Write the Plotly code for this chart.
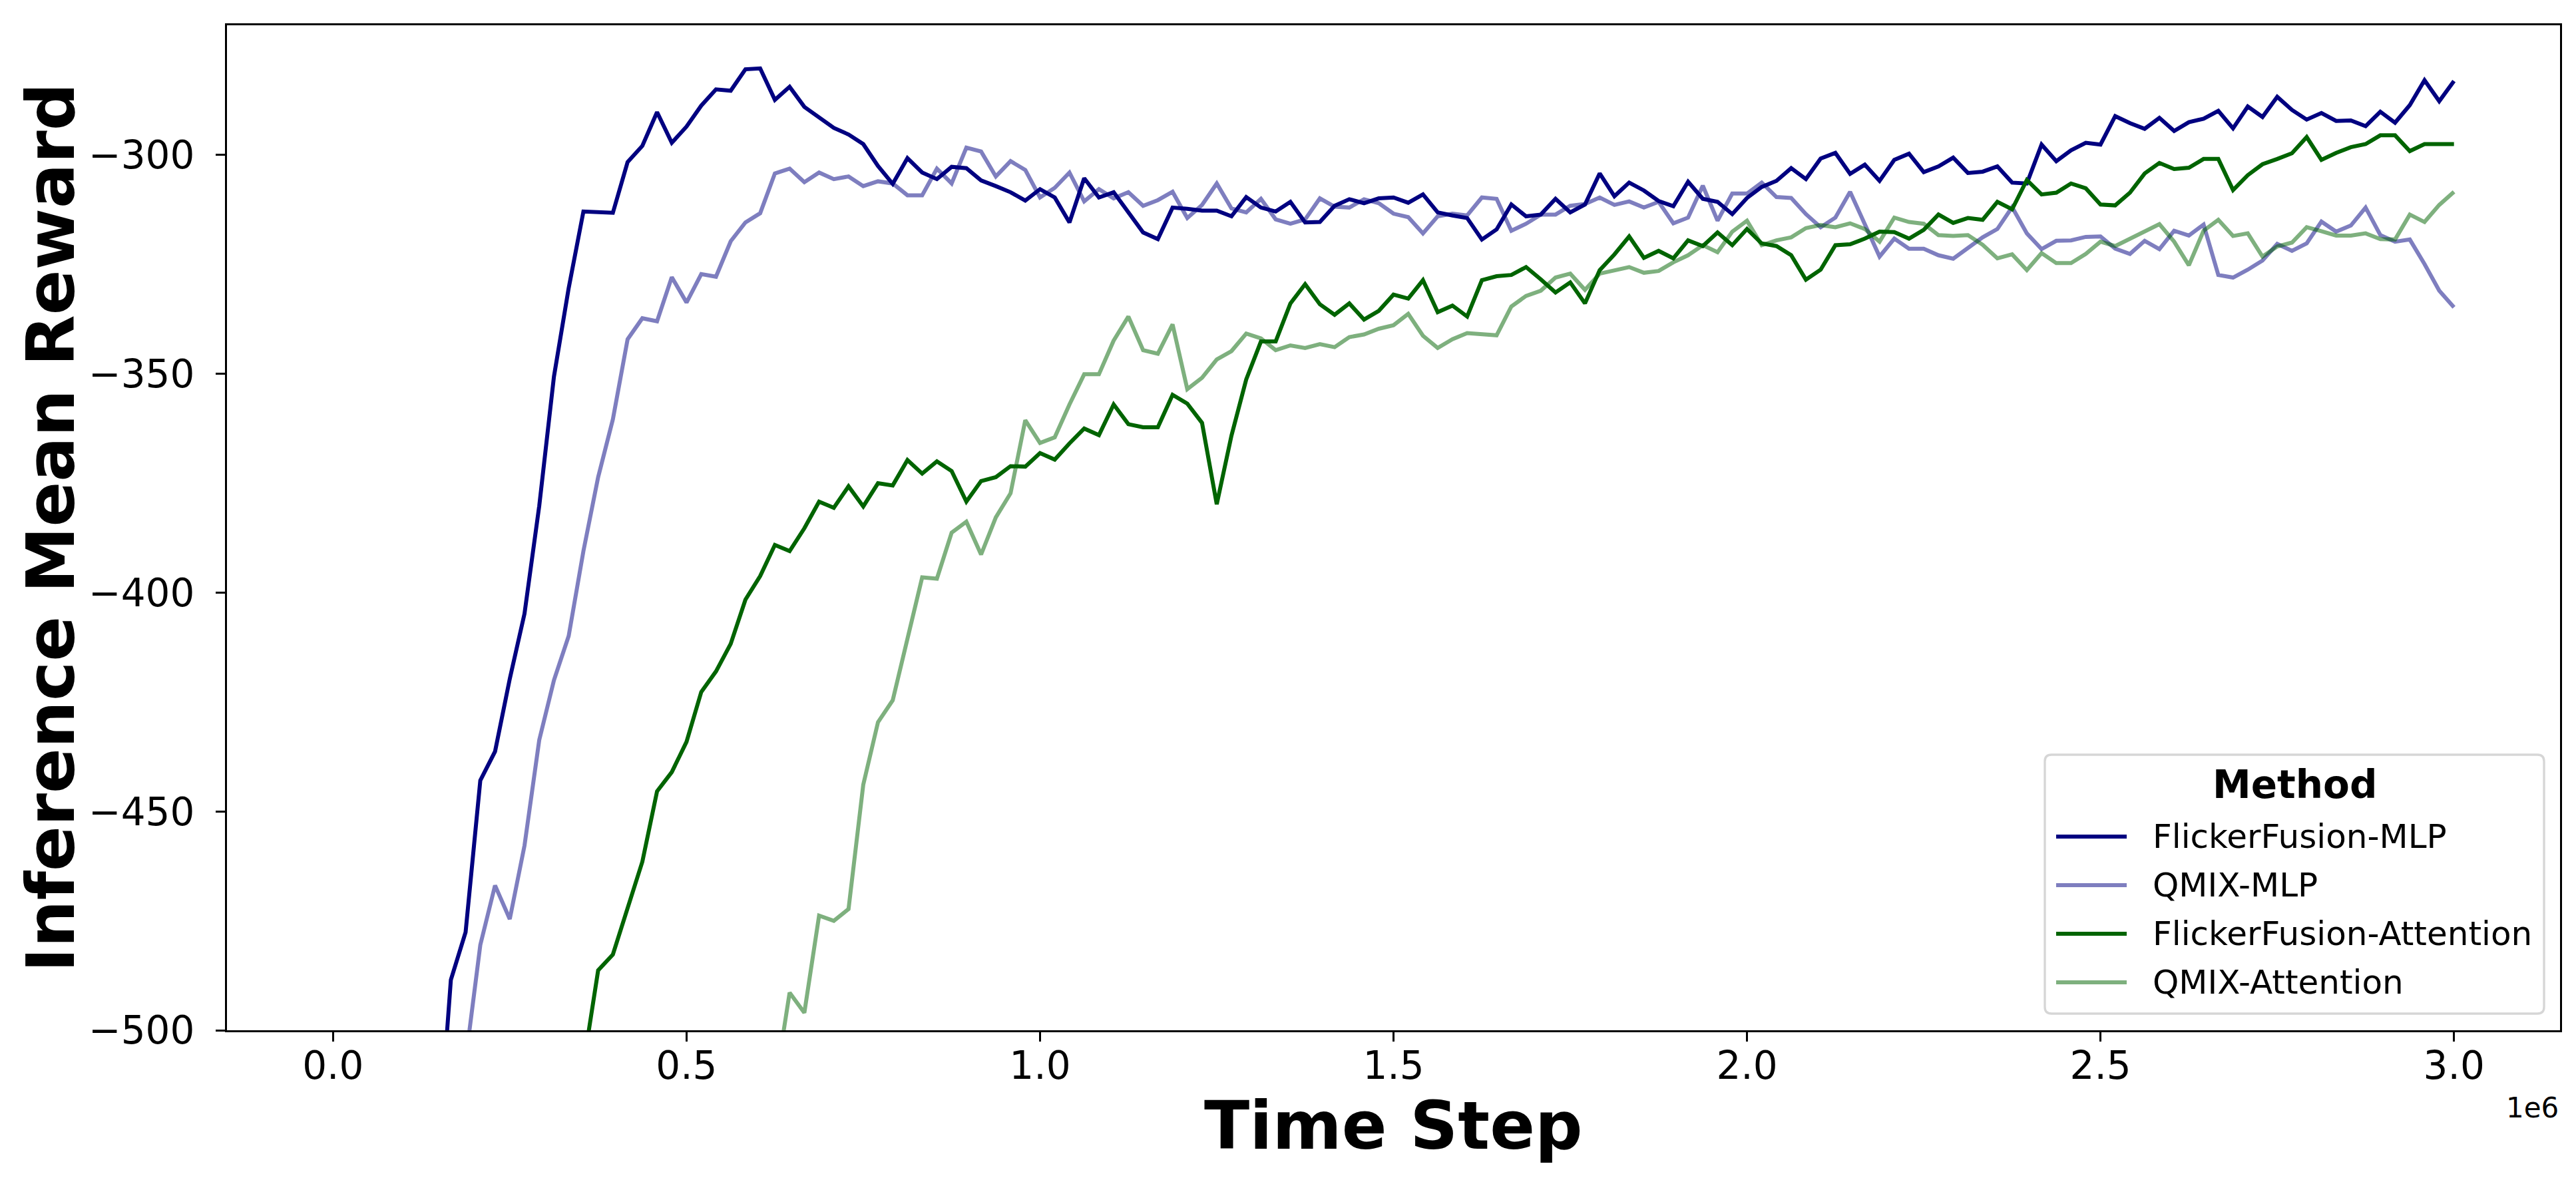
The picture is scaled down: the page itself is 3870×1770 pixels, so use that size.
import plotly.graph_objects as go

# Pasos de evaluacion: 145 evaluaciones entre 0 y 3e6
eval_step = 3_000_000 / 144
time_steps = [eval_step * i for i in range(145)]

methods = ['FlickerFusion-MLP', 'QMIX-MLP', 'FlickerFusion-Attention', 'QMIX-Attention']

# Primer indice de evaluacion visible (justo por debajo de -500)
start_idx = {
    'FlickerFusion-MLP': 7,
    'QMIX-MLP': 9,
    'FlickerFusion-Attention': 17,
    'QMIX-Attention': 30,
}

ff_mlp = [
    -534.0, -488.5, -477.6, -442.9, -436.3, -419.7, -404.8, -380.2, -350.6, -330.4,
    -312.9, -313.0, -313.2, -301.6, -297.9, -290.2, -297.2, -293.5, -288.7, -285.0,
    -285.3,
    -280.4, -280.2, -287.4, -284.4, -289.0, -291.4, -293.8, -295.3, -297.5, -302.5,
    -306.6, -300.7, -304.0, -305.5, -302.7, -303.0, -305.8, -307.1, -308.5, -310.4,
    -307.8, -309.7, -315.4, -305.3, -309.7, -308.5, -313.2,
    -317.7, -319.2, -312.0, -312.3, -312.7, -312.7, -314.0, -309.6, -312.0, -312.9,
    -310.7, -315.4, -315.3, -311.6, -310.1, -311.0, -309.9, -309.7, -310.9, -309.0,
    -313.1, -313.8, -314.4, -319.3, -317.0, -311.3, -314.0, -313.6, -310.0, -313.1,
    -311.3, -304.2, -309.4, -306.3, -308.1, -310.5,
    -311.7, -306.1, -310.0, -310.7, -313.5, -309.8, -307.3, -305.9, -303.0, -305.5,
    -300.8, -299.5, -304.3, -302.2, -305.9, -301.1, -299.7, -303.9, -302.6, -300.6,
    -304.1, -303.8, -302.6, -306.3, -306.5, -297.6, -301.4, -298.9, -297.2, -297.6,
    -291.1, -292.7, -294.0, -291.5,
    -294.5, -292.5, -291.7, -289.9, -293.9, -288.9, -291.3, -286.7, -289.7, -291.9,
    -290.4, -292.2, -292.1, -293.4, -290.1, -292.6, -288.6, -282.9, -287.7, -283.1,
]

qmix_mlp = [
    -507.0, -480.5, -466.9, -474.6, -457.8, -433.7, -420.0, -409.9, -390.5, -373.6,
    -360.4, -342.1, -337.3, -338.0, -327.9, -333.7, -327.2, -327.8, -319.7,
    -315.4, -313.3, -304.2, -303.1, -306.2, -304.0, -305.5, -304.9, -307.1, -306.0,
    -306.5, -309.2, -309.2, -303.1, -306.5, -298.3, -299.2, -304.9, -301.4, -303.4,
    -309.7, -307.5, -304.0, -310.6, -307.8, -309.9, -308.5,
    -311.6, -310.3, -308.4, -314.4, -311.4, -306.5, -312.2, -313.1, -310.0, -314.7,
    -315.7, -314.7, -309.9, -311.8, -312.0, -310.1, -311.0, -313.4, -314.2, -317.9,
    -314.0, -313.4, -313.8, -309.7, -310.0, -317.3, -315.7, -313.6, -313.6, -311.6,
    -311.2, -309.7, -311.4, -310.6, -312.0, -310.7,
    -315.6, -314.3, -307.0, -315.0, -308.8, -308.8, -306.3, -309.6, -309.8, -313.5,
    -316.5, -314.3, -308.4, -315.8, -323.2, -319.1, -321.4, -321.4, -322.9, -323.7,
    -321.2, -318.8, -316.9, -311.9, -317.9, -321.5, -319.6, -319.5, -318.7, -318.6,
    -321.4, -322.6, -319.6, -321.5,
    -317.3, -318.4, -315.9, -327.4, -328.0, -326.2, -324.1, -320.3, -321.9, -320.2,
    -315.2, -317.5, -316.1, -312.0, -318.3, -319.8, -319.3, -324.9, -331.0, -334.8,
]

ff_attention = [
    -508.0, -486.3, -482.7, -472.4, -461.5, -445.4, -441.0, -434.1, -422.7, -418.0,
    -411.7,
    -401.6, -396.2, -389.1, -390.5, -385.3, -379.2, -380.6, -375.7, -380.3, -375.0,
    -375.5, -369.7, -372.8, -370.0, -372.2, -379.2, -374.5, -373.6, -371.1, -371.2,
    -368.1, -369.6, -365.9, -362.5, -364.0, -357.0, -361.5,
    -362.2, -362.2, -354.8, -356.8, -361.2, -379.8, -364.1, -351.3, -342.6, -342.6,
    -333.9, -329.5, -334.1, -336.5, -333.9, -337.6, -335.6, -331.9, -332.8, -328.6,
    -335.9, -334.4, -336.9, -328.6, -327.7, -327.4, -325.6, -328.4, -331.4, -329.1,
    -333.9, -326.3, -322.7, -318.6, -323.5, -321.9,
    -323.6, -319.5, -320.8, -317.7, -320.6, -316.9, -320.2, -320.8, -322.9, -328.5,
    -326.2, -320.6, -320.4, -319.1, -317.5, -317.6, -319.1, -317.1, -313.6, -315.5,
    -314.4, -314.8, -310.7, -312.4, -305.7, -309.0, -308.6, -306.5, -307.6, -311.3,
    -311.5, -308.6, -304.2, -301.8,
    -303.2, -302.9, -300.9, -300.9, -308.0, -304.6, -302.1, -300.9, -299.6, -295.9,
    -301.1, -299.5, -298.2, -297.5, -295.5, -295.5, -299.1, -297.5, -297.6, -297.5,
]

qmix_attention = [
    -513.0, -491.4, -496.0, -473.8, -475.0, -472.3, -443.9, -429.6, -424.6, -410.4,
    -396.5, -396.8, -386.3, -383.8, -391.3, -382.8, -377.3, -360.6, -365.8, -364.5,
    -357.0, -350.1, -350.1, -342.4, -336.9,
    -344.6, -345.4, -338.7, -353.5, -350.9, -346.7, -344.8, -340.8, -341.9, -344.6,
    -343.5, -344.1, -343.2, -343.9, -341.6, -341.0, -339.7, -338.9, -336.3, -341.3,
    -344.1, -342.1, -340.7, -340.9, -341.2, -334.6, -332.2, -331.0, -328.0, -327.1,
    -330.8, -327.1, -326.4, -325.6, -326.9, -326.5,
    -324.5, -322.9, -320.6, -322.2, -317.5, -315.0, -320.6, -319.5, -318.8, -316.7,
    -316.0, -316.5, -315.6, -316.9, -319.8, -314.3, -315.3, -315.7, -318.3, -318.5,
    -318.3, -320.5, -323.6, -322.7, -326.3, -322.4, -324.7, -324.7, -322.6, -319.8,
    -320.8, -319.2, -317.5, -315.8,
    -319.8, -325.2, -317.3, -314.8, -318.5, -317.9, -323.2, -320.9, -320.0, -316.5,
    -317.4, -318.4, -318.4, -317.9, -319.2, -319.3, -313.6, -315.3, -311.4, -308.4,
]

rewards = {
    'FlickerFusion-MLP': ff_mlp,
    'QMIX-MLP': qmix_mlp,
    'FlickerFusion-Attention': ff_attention,
    'QMIX-Attention': qmix_attention,
}

colores = {
    'FlickerFusion-MLP': 'navy',
    'QMIX-MLP': 'navy',
    'FlickerFusion-Attention': 'darkgreen',
    'QMIX-Attention': 'darkgreen',
}
opacidad = {
    'FlickerFusion-MLP': 1.0,
    'QMIX-MLP': 0.5,
    'FlickerFusion-Attention': 1.0,
    'QMIX-Attention': 0.5,
}

x_ticks = [0, 500_000, 1_000_000, 1_500_000, 2_000_000, 2_500_000, 3_000_000]
x_tick_labels = ['0.0', '0.5', '1.0', '1.5', '2.0', '2.5', '3.0']
y_ticks = [-500, -450, -400, -350, -300]
y_tick_labels = ['\u2212500', '\u2212450', '\u2212400', '\u2212350', '\u2212300']

fuente = 'DejaVu Sans'
ancho, alto = 3870, 1770
m_izq, m_der, m_sup, m_inf = 333, 32, 30, 230
area_w = ancho - m_izq - m_der
area_h = alto - m_sup - m_inf


# Convierte pixeles de la figura a coordenadas 'paper'
def px_x(px):
    return (px - m_izq) / area_w


def px_y(py):
    return (alto - m_inf - py) / area_h


fig = go.Figure()
for metodo in methods:
    ini = start_idx[metodo]
    valores = rewards[metodo]
    fig.add_trace(go.Scatter(
        x=time_steps[ini:ini + len(valores)],
        y=valores,
        mode='lines',
        name=metodo,
        showlegend=False,
        line=dict(color=colores[metodo], width=6),
        opacity=opacidad[metodo],
    ))

fig.update_layout(
    width=ancho,
    height=alto,
    margin=dict(l=m_izq, r=m_der, t=m_sup, b=m_inf, autoexpand=False),
    paper_bgcolor='white',
    plot_bgcolor='white',
    font=dict(family=fuente, color='black', size=58),
    showlegend=False,
)

fig.update_xaxes(
    range=[-150_000, 3_150_000],
    tickvals=x_ticks,
    ticktext=x_tick_labels,
    tickfont=dict(family=fuente, size=58, color='black'),
    ticks='outside', ticklen=14, tickwidth=3, tickcolor='black',
    showline=True, linecolor='black', linewidth=3, mirror=True,
    showgrid=False, zeroline=False,
    ticklabelstandoff=-14,
    automargin=False,
)

fig.update_yaxes(
    range=[-500, -270.35],
    tickvals=y_ticks,
    ticktext=y_tick_labels,
    tickfont=dict(family=fuente, size=58, color='black'),
    ticks='outside', ticklen=14, tickwidth=3, tickcolor='black',
    showline=True, linecolor='black', linewidth=3, mirror=True,
    showgrid=False, zeroline=False,
    ticklabelstandoff=20,
    automargin=False,
)

# Titulos de los ejes
fig.add_annotation(
    text='<b>Time Step</b>', x=0.5, y=px_y(1684), xref='paper', yref='paper',
    xanchor='center', yanchor='middle', showarrow=False,
    font=dict(family=fuente, size=100, color='black'),
)
fig.add_annotation(
    text='<b>Inference Mean Reward</b>', x=px_x(68), y=0.5, xref='paper', yref='paper',
    xanchor='center', yanchor='middle', showarrow=False, textangle=-90,
    font=dict(family=fuente, size=100, color='black'),
)

# Texto de desplazamiento del eje x (notacion cientifica)
fig.add_annotation(
    text='1e6', x=1, y=px_y(1656), xref='paper', yref='paper',
    xanchor='right', yanchor='middle', showarrow=False,
    font=dict(family=fuente, size=42, color='black'),
)

# Leyenda dibujada a mano (marco redondeado como en matplotlib)
x0, x1 = px_x(3064), px_x(3814)
y0, y1 = px_y(1515), px_y(1126)
rx, ry = 10 / area_w, 10 / area_h
marco = (f'M {x0 + rx},{y0} L {x1 - rx},{y0} Q {x1},{y0} {x1},{y0 + ry} '
         f'L {x1},{y1 - ry} Q {x1},{y1} {x1 - rx},{y1} '
         f'L {x0 + rx},{y1} Q {x0},{y1} {x0},{y1 - ry} '
         f'L {x0},{y0 + ry} Q {x0},{y0} {x0 + rx},{y0} Z')
fig.add_shape(type='path', path=marco, xref='paper', yref='paper',
              fillcolor='rgba(255,255,255,0.8)', line=dict(color='#d6d6d6', width=3.3),
              layer='above')

fig.add_annotation(
    text='<b>Method</b>', x=px_x(3439), y=px_y(1171), xref='paper', yref='paper',
    xanchor='center', yanchor='middle', showarrow=False,
    font=dict(family=fuente, size=58, color='black'),
)

filas_y = [1249, 1322, 1395, 1468]
for metodo, fy in zip(methods, filas_y):
    fig.add_shape(type='line', xref='paper', yref='paper',
                  x0=px_x(3081), x1=px_x(3187), y0=px_y(fy), y1=px_y(fy),
                  line=dict(color=colores[metodo], width=6),
                  opacity=opacidad[metodo], layer='above')
    fig.add_annotation(
        text=metodo, x=px_x(3224), y=px_y(fy), xref='paper', yref='paper',
        xanchor='left', yanchor='middle', showarrow=False,
        font=dict(family=fuente, size=50, color='black'),
    )

fig.write_html('out.html')
